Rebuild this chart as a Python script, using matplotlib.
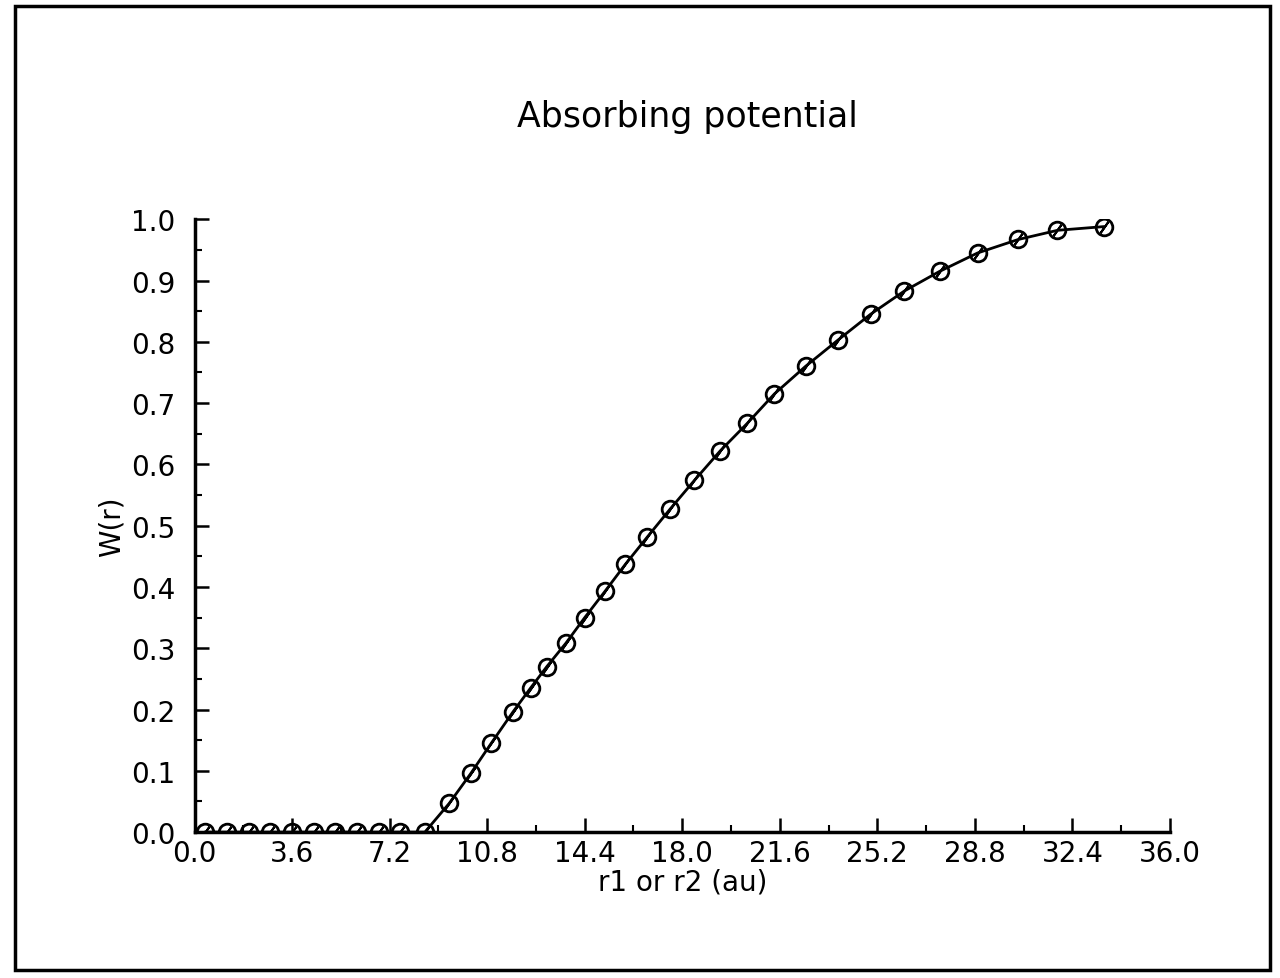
import numpy as np
import matplotlib.pyplot as plt
from matplotlib.patches import Rectangle

# r values (au) and absorbing potential W(r)
r = [0.4, 1.2, 2.0, 2.8, 3.6, 4.4, 5.2, 6.0, 6.8, 7.6, 8.5,
     9.4, 10.2, 10.95, 11.75, 12.4, 13.0, 13.7, 14.4, 15.15, 15.9,
     16.7, 17.55, 18.45, 19.4, 20.4, 21.4, 22.55, 23.75, 24.95, 26.2,
     27.5, 28.9, 30.4, 31.85, 33.55]
w = [0.0, 0.0, 0.0, 0.0, 0.0, 0.0, 0.0, 0.0, 0.0, 0.0, 0.0,
     0.047, 0.096, 0.145, 0.196, 0.235, 0.27, 0.308, 0.35, 0.393, 0.437,
     0.481, 0.527, 0.574, 0.622, 0.667, 0.715, 0.76, 0.803, 0.845, 0.883,
     0.915, 0.945, 0.967, 0.982, 0.988]

xticks = np.arange(0, 36.01, 3.6)
yticks = np.arange(0, 1.01, 0.1)

fig = plt.figure(figsize=(12.8, 9.79), dpi=100)
ax = fig.add_axes([0.152, 0.149, 0.762, 0.626])

ax.plot(r, w, '-', color='black', lw=2)
ax.plot(r, w, 'o', ms=12, mfc='none', mec='black', mew=2)
# slash through each marker
ax.plot(r, w, marker=(2, 2, -35), ls='none', ms=10, mec='black', mew=1.5)

ax.set_xlim(0, 36)
ax.set_ylim(0, 1.0)
ax.set_xticks(xticks)
ax.set_xticklabels(['%.1f' % v for v in xticks])
ax.set_yticks(yticks)
ax.set_yticklabels(['%.1f' % v for v in yticks])
ax.set_xticks(np.arange(1.8, 36, 3.6), minor=True)
ax.set_yticks(np.arange(0.05, 1.0, 0.1), minor=True)

for s in ['top', 'right']:
    ax.spines[s].set_visible(False)
for s in ['left', 'bottom']:
    ax.spines[s].set_linewidth(2.5)

ax.tick_params(which='major', direction='in', length=10, width=1.8,
               labelsize=20)
ax.tick_params(axis='x', which='major', pad=5)
ax.tick_params(axis='y', which='major', pad=14)
ax.tick_params(which='minor', direction='in', length=5, width=1.5)

ax.set_xlabel('r1 or r2 (au)', fontsize=20, labelpad=0)
ax.set_ylabel('W(r)', fontsize=20, labelpad=4)
fig.text(0.537, 0.88, 'Absorbing potential', fontsize=25, ha='center', va='center')

# outer frame around the whole figure
fig.patches.append(Rectangle((0.012, 0.008), 0.98, 0.985, transform=fig.transFigure,
                             fill=False, lw=2.5, ec='black'))

fig.savefig('out.png', dpi=100)
